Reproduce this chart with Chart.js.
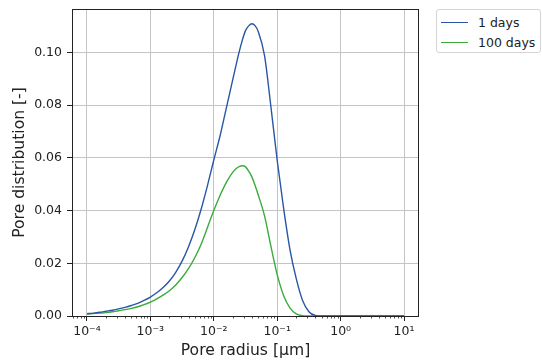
<!DOCTYPE html>
<html>
<head>
<meta charset="utf-8">
<script src="https://cdn.jsdelivr.net/npm/chart.js@4.4.1/dist/chart.umd.min.js"></script>
<style>
  html, body { margin: 0; padding: 0; background: #ffffff; }
  #wrap { position: relative; width: 542px; height: 362px; overflow: hidden; }
  #c { position: absolute; left: 0; top: 0; }
  #legend {
    position: absolute; left: 436px; top: 9px; width: 105px; height: 44px;
    box-sizing: border-box; border: 1px solid #d4d4d4; border-radius: 3px; background: #fff;
    font-family: "DejaVu Sans", sans-serif; font-size: 12.5px; color: #222;
  }
  .item { position: absolute; left: 4px; height: 16px; display: flex; align-items: center; white-space: nowrap; }
  .swatch { width: 27px; height: 0; border-top: 1.6px solid; margin-right: 10px; }
</style>
</head>
<body>
<div id="wrap">
  <canvas id="c" width="542" height="362"></canvas>
  <div id="legend"></div>
</div>
<script>
// Pore radius [µm] sample points
const radius = [
  1.000e-4, 1.259e-4, 1.585e-4, 1.995e-4, 2.512e-4, 3.162e-4, 3.981e-4, 5.012e-4, 6.310e-4, 7.943e-4,
  1.000e-3, 1.259e-3, 1.585e-3, 1.995e-3, 2.512e-3, 3.162e-3, 3.981e-3, 5.012e-3, 6.310e-3, 7.943e-3,
  1.000e-2, 1.259e-2, 1.585e-2, 1.995e-2, 2.239e-2, 2.512e-2, 2.818e-2, 3.162e-2, 3.548e-2, 3.981e-2,
  4.467e-2, 5.012e-2, 6.310e-2, 7.943e-2,
  1.000e-1, 1.259e-1, 1.585e-1, 1.995e-1, 2.512e-1, 3.162e-1, 3.981e-1, 5.012e-1, 6.310e-1,
  1.0, 3.162, 10.0
];
// Pore distribution, 1 days
const days1 = [
  0.0009, 0.0011, 0.0014, 0.0018, 0.0022, 0.0027, 0.0033, 0.0040, 0.0048, 0.0059,
  0.0072, 0.0088, 0.0108, 0.0133, 0.0166, 0.0208, 0.0262, 0.0327, 0.0405, 0.0495,
  0.0592, 0.0685, 0.0792, 0.0898, 0.0951, 0.1002, 0.1047, 0.1083, 0.1101, 0.1109,
  0.1102, 0.1080, 0.0988, 0.0795,
  0.0590, 0.0410, 0.0253, 0.0142, 0.0059, 0.0016, 0.0002, 0.0000, 0.0000,
  0.0, 0.0, 0.0
];
// Pore distribution, 100 days
const days100 = [
  0.0007, 0.0009, 0.0011, 0.0013, 0.0016, 0.0020, 0.0024, 0.0029, 0.0035, 0.0043,
  0.0053, 0.0065, 0.0079, 0.0096, 0.0118, 0.0146, 0.0180, 0.0221, 0.0272, 0.0336,
  0.0400, 0.0458, 0.0508, 0.0546, 0.0559, 0.0567, 0.0570, 0.0566, 0.0550, 0.0528,
  0.0496, 0.0460, 0.0380, 0.0265,
  0.0157, 0.0078, 0.0031, 0.0008, 0.0001, 0.0000, 0.0000, 0.0000, 0.0000,
  0.0, 0.0, 0.0
];
const seriesLabels = ['1 days', '100 days'];
const seriesColors = ['#2a56a6', '#3aab3a'];
const xTicks = [1e-4, 1e-3, 1e-2, 1e-1, 1, 10];
const xTickLabels = ['10\u207B\u2074', '10\u207B\u00B3', '10\u207B\u00B2', '10\u207B\u00B9', '10\u2070', '10\u00B9'];
const xMinorTicks = [
  6e-5, 7e-5, 8e-5, 9e-5,
  2e-4, 3e-4, 4e-4, 5e-4, 6e-4, 7e-4, 8e-4, 9e-4,
  2e-3, 3e-3, 4e-3, 5e-3, 6e-3, 7e-3, 8e-3, 9e-3,
  2e-2, 3e-2, 4e-2, 5e-2, 6e-2, 7e-2, 8e-2, 9e-2,
  2e-1, 3e-1, 4e-1, 5e-1, 6e-1, 7e-1, 8e-1, 9e-1,
  2, 3, 4, 5, 6, 7, 8, 9
];
const yTicks = [0, 0.02, 0.04, 0.06, 0.08, 0.10];
const xMin = 5.81e-5, xMax = 17.2;
const yMin = 0, yMax = 0.1165;

const FONT = '"DejaVu Sans", sans-serif';
const AXIS = '#222222';

const frameAndMinor = {
  id: 'frameAndMinor',
  afterDraw(chart) {
    const {ctx, chartArea: a} = chart;
    const xs = chart.scales.x;
    ctx.save();
    ctx.strokeStyle = AXIS;
    ctx.lineWidth = 0.8;
    xMinorTicks.forEach(v => {
      if (v < xs.min || v > xs.max) return;
      const px = Math.round(xs.getPixelForValue(v)) + 0.5;
      ctx.beginPath();
      ctx.moveTo(px, a.bottom);
      ctx.lineTo(px, a.bottom + 2.5);
      ctx.stroke();
    });
    ctx.lineWidth = 1;
    ctx.strokeRect(Math.round(a.left) + 0.5, Math.round(a.top) + 0.5,
                   Math.round(a.right - a.left) - 1, Math.round(a.bottom - a.top));
    ctx.restore();
  }
};

const chart = new Chart(document.getElementById('c'), {
  type: 'line',
  data: {
    datasets: [days1, days100].map((vals, k) => ({
      label: seriesLabels[k],
      data: radius.map((r, i) => ({x: r, y: vals[i]})),
      borderColor: seriesColors[k],
      backgroundColor: seriesColors[k],
      borderWidth: 1.4,
      pointRadius: 0,
      cubicInterpolationMode: 'monotone',
      fill: false
    }))
  },
  options: {
    responsive: false,
    animation: false,
    devicePixelRatio: 1,
    layout: { padding: { top: 9, right: 123, bottom: 0, left: 0 } },
    plugins: { legend: { display: false }, tooltip: { enabled: false } },
    scales: {
      x: {
        type: 'logarithmic',
        min: xMin, max: xMax,
        bounds: 'data',
        afterBuildTicks: s => { s.ticks = xTicks.map(v => ({value: v, major: true})); },
        afterFit: s => { s.height = 46; s.paddingLeft = 0; s.paddingRight = 0; },
        ticks: {
          autoSkip: false, maxRotation: 0, minRotation: 0,
          padding: 3,
          color: '#222',
          font: { family: FONT, size: 12.5 },
          callback: (v, i) => xTickLabels[i]
        },
        grid: { color: '#c4c4c4', lineWidth: 1, tickLength: 5, tickColor: AXIS, tickWidth: 1 },
        border: { display: false },
        title: {
          display: true, text: 'Pore radius [\u00B5m]', color: '#222',
          font: { family: FONT, size: 15.6 }, padding: { top: 0, bottom: 2 }
        }
      },
      y: {
        type: 'linear',
        min: yMin, max: yMax,
        bounds: 'data',
        afterBuildTicks: s => { s.ticks = yTicks.map(v => ({value: v})); },
        afterFit: s => { s.width = 72; s.paddingTop = 0; s.paddingBottom = 0; },
        ticks: {
          padding: 5,
          color: '#222',
          font: { family: FONT, size: 12.5 },
          callback: v => Number(v).toFixed(2)
        },
        grid: { color: '#c4c4c4', lineWidth: 1, tickLength: 5, tickColor: AXIS, tickWidth: 1 },
        border: { display: false },
        title: {
          display: true, text: 'Pore distribution [-]', color: '#222',
          font: { family: FONT, size: 15.6 }, padding: { top: 11, bottom: 0 }
        }
      }
    }
  },
  plugins: [frameAndMinor]
});

// HTML legend built from the datasets
const leg = document.getElementById('legend');
chart.data.datasets.forEach((ds, i) => {
  const it = document.createElement('div');
  it.className = 'item';
  it.style.top = (4 + i * 20) + 'px';
  const sw = document.createElement('span');
  sw.className = 'swatch';
  sw.style.borderTopColor = ds.borderColor;
  const tx = document.createElement('span');
  tx.textContent = ds.label;
  it.appendChild(sw); it.appendChild(tx);
  leg.appendChild(it);
});
</script>
</body>
</html>
